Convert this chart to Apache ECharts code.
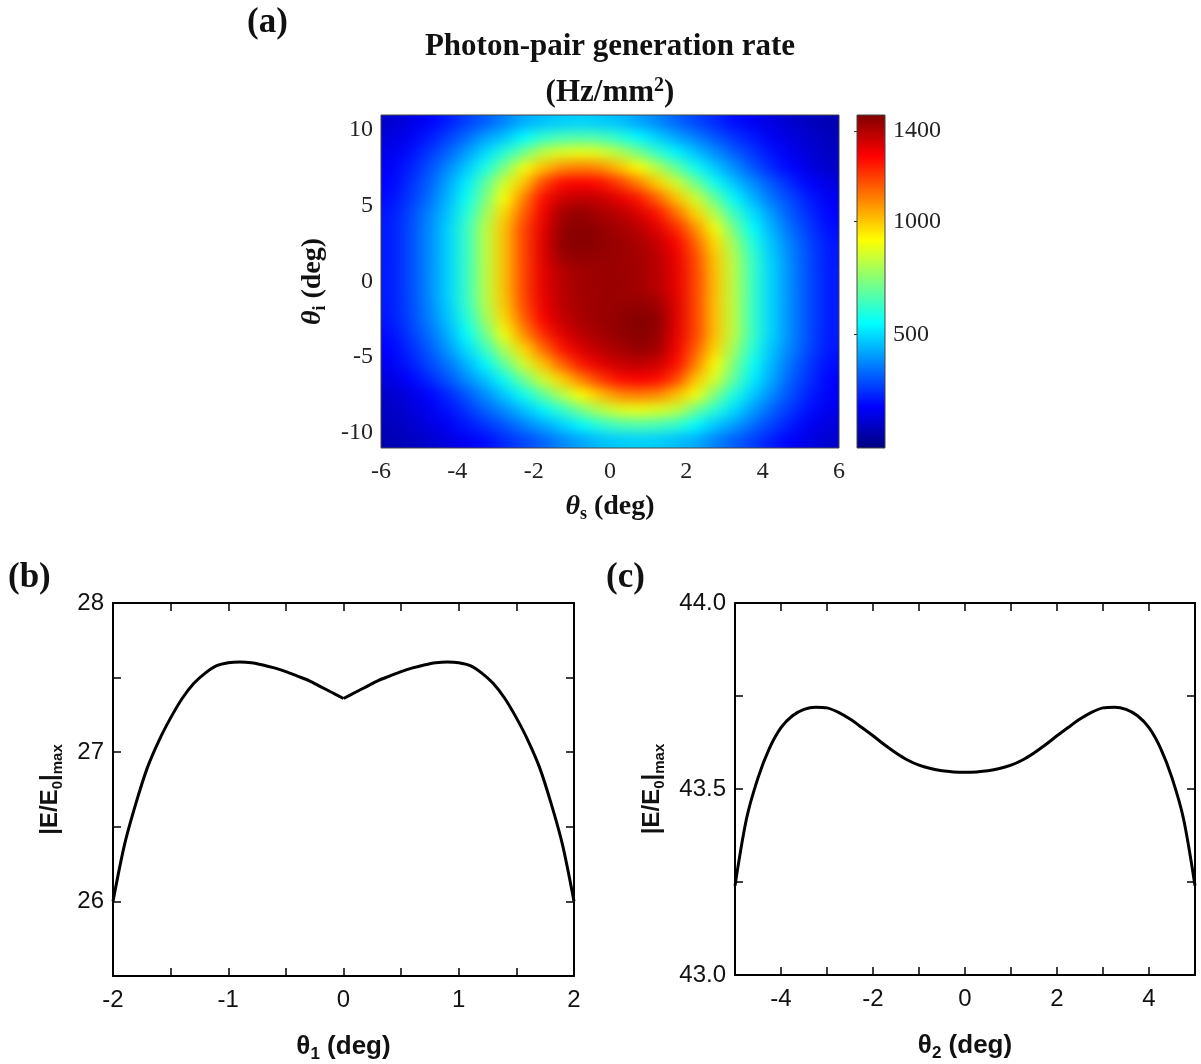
<!DOCTYPE html>
<html><head><meta charset="utf-8">
<script src="https://cdn.jsdelivr.net/npm/echarts@6/dist/echarts.min.js"></script>
<style>
html,body{margin:0;padding:0;background:#fff;}
#wrap{position:relative;width:1201px;height:1064px;}
#hm{position:absolute;left:381px;top:115px;width:458px;height:333px;filter:url(#smooth);}
#main{position:absolute;left:0;top:0;width:1201px;height:1064px;}
</style></head>
<body>
<svg width="0" height="0" style="position:absolute">
<defs><filter id="smooth" x="0" y="0" width="1" height="1" color-interpolation-filters="sRGB">
<feGaussianBlur stdDeviation="8 6" edgeMode="duplicate"/>
<feComponentTransfer><feFuncA type="table" tableValues="1 1"/></feComponentTransfer>
</filter></defs></svg>
<div id="wrap"><div id="hm"></div><div id="main"></div></div>
<script>
// ---------- (a) heat map: cell centres (deg) ----------
const thetaSCells = [-5.75,-5.25,-4.75,-4.25,-3.75,-3.25,-2.75,-2.25,-1.75,-1.25,-0.75,-0.25,0.25,0.75,1.25,1.75,2.25,2.75,3.25,3.75,4.25,4.75,5.25,5.75];
const thetaICells = [-10.5,-9.5,-8.5,-7.5,-6.5,-5.5,-4.5,-3.5,-2.5,-1.5,-0.5,0.5,1.5,2.5,3.5,4.5,5.5,6.5,7.5,8.5,9.5,10.5];
// photon-pair generation rate (Hz/mm^2), rows from theta_i = 10.5 (top) down to -10.5 (bottom)
const rateRows = [
 [112,143,178,222,275,320,375,430,460,480,485,475,460,420,380,328,282,245,200,165,140,111,92,75],
 [135,167,218,278,340,415,470,550,620,655,665,655,610,545,485,425,370,310,258,215,167,140,110,87],
 [158,200,260,325,410,500,610,710,830,870,890,870,810,725,625,540,460,390,320,260,205,160,125,98],
 [172,225,295,380,475,590,735,900,1010,1085,1105,1085,1010,920,810,690,570,475,390,308,240,185,142,108],
 [187,248,320,420,525,685,860,1000,1180,1275,1290,1270,1200,1100,985,850,710,570,465,385,305,238,182,140],
 [200,262,342,445,565,730,915,1100,1270,1355,1375,1365,1320,1255,1140,1000,850,695,545,440,350,283,217,165],
 [215,280,370,465,600,780,975,1150,1300,1420,1440,1410,1385,1340,1260,1125,975,805,635,505,400,310,240,185],
 [220,290,380,485,630,820,1010,1190,1320,1440,1455,1440,1415,1385,1330,1225,1080,905,715,555,435,340,265,200],
 [220,290,380,485,630,820,1010,1190,1330,1450,1460,1445,1430,1410,1370,1290,1145,970,780,595,465,365,280,215],
 [220,290,380,485,630,820,1010,1190,1330,1425,1440,1435,1430,1415,1385,1310,1180,1000,810,625,480,375,288,218],
 [220,290,380,485,630,820,1010,1190,1320,1390,1420,1430,1430,1420,1390,1320,1190,1010,820,630,485,380,290,220],
 [220,290,380,485,630,820,1010,1190,1320,1390,1420,1430,1430,1420,1390,1320,1190,1010,820,630,485,380,290,220],
 [218,288,375,480,625,810,1000,1180,1310,1385,1415,1430,1435,1440,1425,1330,1190,1010,820,630,485,380,290,220],
 [215,280,365,465,595,780,970,1145,1290,1370,1410,1430,1445,1460,1450,1330,1190,1010,820,630,485,380,290,220],
 [200,265,340,435,555,715,905,1080,1225,1330,1385,1415,1440,1455,1440,1320,1190,1010,820,630,485,380,290,220],
 [185,240,310,400,505,635,805,975,1125,1260,1340,1385,1410,1440,1420,1300,1150,975,780,600,465,370,280,215],
 [165,217,283,350,440,545,695,850,1000,1140,1255,1320,1365,1375,1355,1270,1100,915,730,565,445,342,262,200],
 [140,182,238,305,385,465,570,710,850,985,1100,1200,1270,1290,1275,1180,1000,860,685,525,420,320,248,187],
 [108,142,185,240,308,390,475,570,690,810,920,1010,1085,1105,1085,1010,900,735,590,475,380,295,225,172],
 [98,125,160,205,260,325,390,460,540,625,725,810,870,890,870,830,710,610,500,410,325,260,200,158],
 [87,110,140,167,215,258,310,370,425,485,545,610,655,665,655,620,550,470,415,340,278,218,167,135],
 [75,92,111,140,165,200,245,282,328,380,420,460,475,485,480,460,430,375,320,275,222,178,143,112]
];
const thetaSLabels = [-6,-4,-2,0,2,4,6];
const thetaILabels = [-10,-5,0,5,10];
const rateRange = [0, 1470];
const rateLabels = [500, 1000, 1400];

// ---------- (b) ----------
const theta1 = [-2.0,-1.9,-1.8,-1.7,-1.6,-1.5,-1.4,-1.3,-1.2,-1.1,-1.0,-0.9,-0.8,-0.7,-0.6,-0.5,-0.4,-0.3,-0.2,-0.1,0.0,0.1,0.2,0.3,0.4,0.5,0.6,0.7,0.8,0.9,1.0,1.1,1.2,1.3,1.4,1.5,1.6,1.7,1.8,1.9,2.0];
const fieldB = [26.00,26.38,26.66,26.90,27.08,27.23,27.36,27.46,27.53,27.58,27.60,27.605,27.60,27.585,27.565,27.54,27.51,27.48,27.44,27.40,27.36,27.40,27.44,27.48,27.51,27.54,27.565,27.585,27.60,27.605,27.60,27.58,27.53,27.46,27.36,27.23,27.08,26.90,26.66,26.38,26.00];
const theta1Labels = [-2,-1,0,1,2];
const theta1Ticks = [-1.5,-1,-0.5,0,0.5,1,1.5];
const fieldBLabels = [26,27,28];
const fieldBTicks = [26,26.5,27,27.5];

// ---------- (c) ----------
const theta2 = [-5,-4.75,-4.5,-4.25,-4,-3.75,-3.5,-3.25,-3,-2.75,-2.5,-2.25,-2,-1.75,-1.5,-1.25,-1,-0.75,-0.5,-0.25,0,0.25,0.5,0.75,1,1.25,1.5,1.75,2,2.25,2.5,2.75,3,3.25,3.5,3.75,4,4.25,4.5,4.75,5];
const fieldC = [43.24,43.42,43.53,43.61,43.665,43.697,43.714,43.72,43.718,43.706,43.688,43.666,43.643,43.619,43.597,43.578,43.564,43.555,43.549,43.546,43.545,43.546,43.549,43.555,43.564,43.578,43.597,43.619,43.643,43.666,43.688,43.706,43.718,43.72,43.714,43.697,43.665,43.61,43.53,43.42,43.24];
const theta2Labels = [-4,-2,0,2,4];
const theta2Ticks = [-4,-3,-2,-1,0,1,2,3,4];
const fieldCLabels = [43.0,43.5,44.0];
const fieldCTicks = [43.25,43.5,43.75];

// ---------- styles ----------
const jet = ['#00007f','#0000ff','#007fff','#00ffff','#7fff7f','#ffff00','#ff7f00','#ff0000','#7f0000'];
const SERIF = 'Liberation Serif', SANS = 'Liberation Sans';

// ---------- heat map layer ----------
const hmData = [];
rateRows.forEach((row, r) => {
  const yi = thetaICells.length - 1 - r;
  row.forEach((v, xi) => hmData.push([xi, yi, v]));
});
const hm = echarts.init(document.getElementById('hm'), null, {renderer: 'canvas'});
hm.setOption({
  animation: false,
  grid: {left: 0, right: 0, top: 0, bottom: 0},
  xAxis: {type: 'category', data: thetaSCells, show: false},
  yAxis: {type: 'category', data: thetaICells, show: false},
  visualMap: {show: false, min: rateRange[0], max: rateRange[1], inRange: {color: jet}},
  series: [{type: 'heatmap', data: hmData, progressive: 0, itemStyle: {borderWidth: 0}, emphasis: {disabled: true}}]
});

// ---------- main layer ----------
const sansAxisLabel = {fontFamily: SANS, fontSize: 24, color: '#111'};
const blackLine = {show: true, onZero: false, lineStyle: {color: '#000', width: 2}};
function frameX(gi, min, max, labels, ticks, pos, named) {
  return {
    gridIndex: gi, type: 'value', position: pos, min: min, max: max,
    axisLine: blackLine, splitLine: {show: false},
    axisTick: {show: true, inside: true, length: 8, customValues: ticks, lineStyle: {color: '#000', width: 1.5}},
    axisLabel: pos === 'bottom' ? Object.assign({customValues: labels, margin: 12}, sansAxisLabel) : {show: false},
    name: named || '', nameLocation: 'middle', nameGap: 55,
    nameTextStyle: {rich: {
      t: {fontFamily: SANS, fontWeight: 'bold', fontSize: 26, lineHeight: 32, color: '#111'},
      s: {fontFamily: SANS, fontWeight: 'bold', fontSize: 17, lineHeight: 17, verticalAlign: 'bottom', color: '#111'}
    }}
  };
}
function frameY(gi, min, max, labels, ticks, pos, named, fmt, gap) {
  return {
    gridIndex: gi, type: 'value', position: pos, min: min, max: max,
    axisLine: blackLine, splitLine: {show: false},
    axisTick: {show: true, inside: true, length: 8, customValues: ticks, lineStyle: {color: '#000', width: 1.5}},
    axisLabel: pos === 'left' ? Object.assign({customValues: labels, margin: 9, formatter: fmt}, sansAxisLabel) : {show: false},
    name: named || '', nameLocation: 'middle', nameGap: gap || 50,
    nameTextStyle: {rich: {
      t: {fontFamily: SANS, fontWeight: 'bold', fontSize: 24, lineHeight: 30, color: '#111'},
      s: {fontFamily: SANS, fontWeight: 'bold', fontSize: 15, lineHeight: 15, verticalAlign: 'bottom', color: '#111'}
    }}
  };
}
const serifRich = {
  th: {fontFamily: SERIF, fontWeight: 'bold', fontStyle: 'italic', fontSize: 28, lineHeight: 32, color: '#111'},
  s: {fontFamily: SERIF, fontWeight: 'bold', fontSize: 18, lineHeight: 18, verticalAlign: 'bottom', color: '#111'},
  n: {fontFamily: SERIF, fontWeight: 'bold', fontSize: 28, lineHeight: 32, color: '#111'}
};
const yName = '{t||E/E}{s|0}{t||}{s|max}';

const bLeft = [], bRight = [], cData = [];
theta1.forEach((x, i) => { if (x <= 0) bLeft.push([x, fieldB[i]]); if (x >= 0) bRight.push([x, fieldB[i]]); });
theta2.forEach((x, i) => cData.push([x, fieldC[i]]));

const main = echarts.init(document.getElementById('main'), null, {renderer: 'canvas'});
main.setOption({
  animation: false,
  backgroundColor: 'transparent',
  grid: [
    {left: 381, top: 115, width: 458, height: 333, show: true, borderColor: '#444', borderWidth: 1, backgroundColor: 'transparent'},
    {left: 857, top: 115, width: 28, height: 333},
    {left: 113, top: 603, width: 461, height: 373},
    {left: 735, top: 603, width: 460, height: 372}
  ],
  xAxis: [
    {gridIndex: 0, type: 'value', min: -6, max: 6, axisLine: {show: false}, axisTick: {show: false}, splitLine: {show: false},
     axisLabel: {customValues: thetaSLabels, fontFamily: SERIF, fontSize: 24, color: '#222', margin: 12},
     name: '{th|θ}{s|s}{n| (deg)}', nameLocation: 'middle', nameGap: 43, nameTextStyle: {rich: serifRich}},
    {gridIndex: 1, type: 'value', min: 0, max: 1, show: false},
    frameX(2, -2, 2, theta1Labels, theta1Ticks, 'bottom', '{t|θ}{s|1}{t| (deg)}'),
    frameX(2, -2, 2, theta1Labels, theta1Ticks, 'top'),
    frameX(3, -5, 5, theta2Labels, theta2Ticks, 'bottom', '{t|θ}{s|2}{t| (deg)}'),
    frameX(3, -5, 5, theta2Labels, theta2Ticks, 'top')
  ],
  yAxis: [
    {gridIndex: 0, type: 'value', min: -11, max: 11, axisLine: {show: false}, axisTick: {show: false}, splitLine: {show: false},
     axisLabel: {customValues: thetaILabels, fontFamily: SERIF, fontSize: 24, color: '#222', margin: 8},
     name: '{th|θ}{s|i}{n| (deg)}', nameLocation: 'middle', nameGap: 52, nameTextStyle: {rich: serifRich}},
    {gridIndex: 1, type: 'value', position: 'right', min: rateRange[0], max: rateRange[1], axisLine: {show: false}, splitLine: {show: false},
     axisTick: {show: true, inside: true, length: 3, customValues: rateLabels, lineStyle: {color: '#333'}},
     axisLabel: {customValues: rateLabels, fontFamily: SERIF, fontSize: 24, color: '#222', margin: 8, formatter: v => String(v)}},
    frameY(2, 25.5, 28, fieldBLabels, fieldBTicks, 'left', yName, v => String(v), 48),
    frameY(2, 25.5, 28, fieldBLabels, fieldBTicks, 'right'),
    frameY(3, 43, 44, fieldCLabels, fieldCTicks, 'left', yName, v => v.toFixed(1), 68),
    frameY(3, 43, 44, fieldCLabels, fieldCTicks, 'right')
  ],
  series: [
    {type: 'custom', xAxisIndex: 1, yAxisIndex: 1, silent: true, data: [[0, rateRange[0], 1, rateRange[1]]],
     renderItem: function (params, api) {
       const a = api.coord([api.value(0), api.value(1)]);
       const b = api.coord([api.value(2), api.value(3)]);
       return {type: 'rect', shape: {x: a[0], y: b[1], width: b[0] - a[0], height: a[1] - b[1]},
         style: {fill: new echarts.graphic.LinearGradient(0, 1, 0, 0, jet.map((c, i) => ({offset: i / (jet.length - 1), color: c}))), stroke: '#444', lineWidth: 1}};
     }},
    {type: 'line', xAxisIndex: 2, yAxisIndex: 2, data: bLeft, showSymbol: false, smooth: 0.3, lineStyle: {color: '#000', width: 3}},
    {type: 'line', xAxisIndex: 2, yAxisIndex: 2, data: bRight, showSymbol: false, smooth: 0.3, lineStyle: {color: '#000', width: 3}},
    {type: 'line', xAxisIndex: 4, yAxisIndex: 4, data: cData, showSymbol: false, smooth: 0.3, lineStyle: {color: '#000', width: 3}}
  ],
  graphic: [
    {type: 'text', x: 247, y: 23, style: {text: '(a)', font: 'bold 35px "Liberation Serif"', fill: '#111', textVerticalAlign: 'middle', verticalAlign: 'middle'}},
    {type: 'text', x: 610, y: 47, style: {text: 'Photon-pair generation rate', font: 'bold 31px "Liberation Serif"', fill: '#111', textAlign: 'center', align: 'center', textVerticalAlign: 'middle', verticalAlign: 'middle'}},
    {type: 'text', x: 610, y: 93, style: {text: '{a|(Hz/mm}{p|2}{a|)}', fill: '#111', textAlign: 'center', align: 'center', textVerticalAlign: 'middle', verticalAlign: 'middle',
      rich: {a: {fontFamily: SERIF, fontWeight: 'bold', fontSize: 31, lineHeight: 35, fill: '#111', color: '#111'},
             p: {fontFamily: SERIF, fontWeight: 'bold', fontSize: 20, lineHeight: 20, verticalAlign: 'top', fill: '#111', color: '#111'}}}},
    {type: 'text', x: 8, y: 578, style: {text: '(b)', font: 'bold 35px "Liberation Serif"', fill: '#111', textVerticalAlign: 'middle', verticalAlign: 'middle'}},
    {type: 'text', x: 606, y: 578, style: {text: '(c)', font: 'bold 35px "Liberation Serif"', fill: '#111', textVerticalAlign: 'middle', verticalAlign: 'middle'}}
  ]
});
</script>
</body></html>
